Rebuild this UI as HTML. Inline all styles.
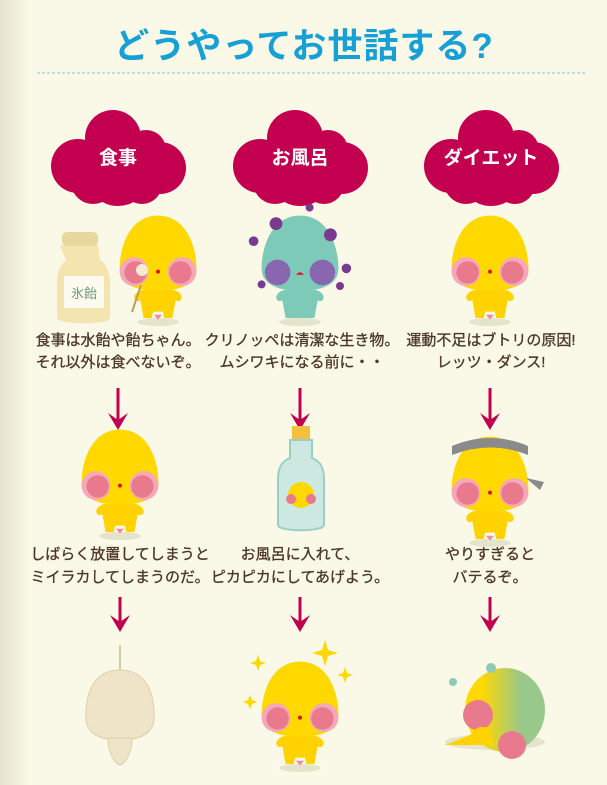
<!DOCTYPE html>
<html><head><meta charset="utf-8"><style>
body{margin:0;width:607px;height:785px;overflow:hidden;background:#faf8e6;font-family:"Liberation Sans","Noto Sans CJK JP",sans-serif}
svg{position:absolute;left:0;top:0}
</style></head><body>
<svg width="607" height="785" viewBox="0 0 607 785">
<defs>
<linearGradient id="lg" x1="0" x2="1"><stop offset="0" stop-color="#e6e2d0"/><stop offset="1" stop-color="#faf8e6"/></linearGradient>
<linearGradient id="gg" x1="0" y1="0" x2="1" y2="0"><stop offset="0.2" stop-color="#ffd800"/><stop offset="0.7" stop-color="#98c88a"/></linearGradient>
<g id="cloud" fill="#c2004f">
<circle cx="-5" cy="-20" r="28"/><circle cx="28" cy="-8" r="20"/><circle cx="-40" cy="8" r="27"/><circle cx="42" cy="10" r="26"/><circle cx="0" cy="16" r="32"/><circle cx="-25" cy="24" r="22"/><circle cx="24" cy="26" r="20"/><rect x="-45" y="-15" width="90" height="40"/>
</g>
<g id="ch">
<ellipse cx="0" cy="85" rx="26" ry="5" fill="#e4e4cc"/>
<path d="M-20,45 C-35,50 -30,62 -22,58 L-18,80 L-8,80 L-6,72 L6,72 L8,80 L18,80 L22,58 C30,62 35,50 20,45Z" fill="#ffd200"/>
<path d="M-5,76 L0,82 L5,76Z" fill="#f08aa0"/>
<path d="M0,-48 C36,-48 48,-8 48,18 C48,40 24,46 0,46 C-24,46 -48,40 -48,18 C-48,-8 -36,-48 0,-48Z" fill="#ffd800"/>
<circle cx="-30" cy="22" r="18" fill="#f5a8b8"/><circle cx="30" cy="22" r="18" fill="#f5a8b8"/>
<circle cx="-28" cy="23" r="14" fill="#e97a8e"/><circle cx="28" cy="23" r="14" fill="#e97a8e"/>
<circle cx="0" cy="22" r="2.5" fill="#e0102a"/>
</g>
</defs>
<rect x="0" y="0" width="30" height="785" fill="url(#lg)"/>
<text x="304" y="58" text-anchor="middle" font-size="35" font-weight="bold" fill="#17a0d6" letter-spacing="1">どうやってお世話する?</text>
<line x1="37" y1="73" x2="585" y2="73" stroke="#80c6d8" stroke-width="1" stroke-dasharray="3,2"/>

<use href="#cloud" x="118" y="158"/>
<use href="#cloud" x="300" y="158"/>
<use href="#cloud" x="491" y="158"/>
<g fill="#fff" font-size="19" font-weight="bold" text-anchor="middle">
<text x="118" y="164">食事</text><text x="300" y="164">お風呂</text><text x="491" y="164">ダイエット</text>
</g>

<!-- row 1 -->
<g>
<path d="M60,245 L98,245 L100,260 C108,265 110,275 110,285 L110,318 C110,325 60,325 57,318 L57,285 C57,272 60,265 66,260Z" fill="#f3e4b0"/>
<rect x="62" y="232" width="36" height="14" rx="5" fill="#e8d8a0"/>
<rect x="64" y="276" width="40" height="32" fill="#fdfbf0"/>
<text x="84" y="298" text-anchor="middle" font-size="13" fill="#6a9a7a">氷飴</text>
</g>
<use href="#ch" transform="translate(158,254) scale(0.8)"/>
<line x1="132" y1="312" x2="141" y2="285" stroke="#b8a060" stroke-width="2"/>
<circle cx="142" cy="270" r="6" fill="#f6ead0"/>
<g transform="translate(300,254) scale(0.8)">
<ellipse cx="0" cy="85" rx="26" ry="5" fill="#e4e4cc"/>
<path d="M-20,45 C-35,50 -30,62 -22,58 L-18,80 L18,80 L22,58 C30,62 35,50 20,45Z" fill="#7ecab8"/>
<path d="M0,-48 C36,-48 48,-8 48,18 C48,40 24,46 0,46 C-24,46 -48,40 -48,18 C-48,-8 -36,-48 0,-48Z" fill="#7ecab8"/>
<circle cx="-28" cy="23" r="16" fill="#8866b0"/><circle cx="28" cy="23" r="16" fill="#8866b0"/>
<path d="M-5,26 Q0,20 5,26Z" fill="#e0102a"/>
<g fill="#7a3a90"><circle cx="-30" cy="-38" r="8"/><circle cx="38" cy="-24" r="8"/><circle cx="12" cy="-58" r="5"/><circle cx="-58" cy="-16" r="6"/><circle cx="58" cy="18" r="6"/><circle cx="-48" cy="38" r="5"/><circle cx="50" cy="40" r="5"/></g>
</g>
<use href="#ch" transform="translate(490,254) scale(0.8)"/>

<g fill="#4a3628" stroke="#4a3628" stroke-width="0.3" font-size="15" text-anchor="middle">
<text x="118" y="345">食事は水飴や飴ちゃん。</text>
<text x="118" y="367">それ以外は食べないぞ。</text>
<text x="302" y="345">クリノッペは清潔な生き物。</text>
<text x="302" y="367">ムシワキになる前に・・</text>
<text x="491" y="345">運動不足はブトリの原因!</text>
<text x="491" y="367">レッツ・ダンス!</text>
<text x="120" y="559">しばらく放置してしまうと</text>
<text x="120" y="582">ミイラカしてしまうのだ。</text>
<text x="300" y="559">お風呂に入れて、</text>
<text x="300" y="582">ピカピカにしてあげよう。</text>
<text x="490" y="559">やりすぎると</text>
<text x="490" y="582">バテるぞ。</text>
</g>

<!-- arrows -->
<g stroke="#c2004f" stroke-width="3" fill="#c2004f">
<line x1="118" y1="388" x2="118" y2="420"/><path d="M108,413 L118,430 L128,413 L118,420Z" stroke="none"/>
<line x1="300" y1="388" x2="300" y2="420"/><path d="M290,413 L300,430 L310,413 L300,420Z" stroke="none"/>
<line x1="490" y1="388" x2="490" y2="420"/><path d="M480,413 L490,430 L500,413 L490,420Z" stroke="none"/>
<line x1="120" y1="597" x2="120" y2="622"/><path d="M110,615 L120,632 L130,615 L120,622Z" stroke="none"/>
<line x1="300" y1="597" x2="300" y2="622"/><path d="M290,615 L300,632 L310,615 L300,622Z" stroke="none"/>
<line x1="490" y1="597" x2="490" y2="622"/><path d="M480,615 L490,632 L500,615 L490,622Z" stroke="none"/>
</g>

<!-- row 2 -->
<use href="#ch" transform="translate(120,468) scale(0.8)"/>
<g>
<rect x="292" y="426" width="18" height="14" fill="#f5c040"/>
<path d="M290,440 L312,440 L312,458 C322,462 324,470 324,480 L324,525 C324,532 278,532 278,525 L278,480 C278,470 280,462 290,458Z" fill="#cde8e0" stroke="#9ccfc4" stroke-width="2"/>
<ellipse cx="301" cy="495" rx="13" ry="13" fill="#ffd800"/>
<circle cx="291" cy="499" r="5" fill="#e97a8e"/><circle cx="311" cy="499" r="5" fill="#e97a8e"/>
</g>
<use href="#ch" transform="translate(490,475) scale(0.8)"/>
<path d="M452,446 Q490,430 528,446 L528,455 Q490,440 452,455Z" fill="#8a8a8a"/>
<path d="M526,478 L544,482 L540,490 Z" fill="#8a8a8a"/>

<!-- row 3 -->
<g>
<line x1="120" y1="645" x2="120" y2="672" stroke="#d8c8a0" stroke-width="2"/>
<path d="M120,670 C150,670 155,700 154,720 C152,735 138,740 120,740 C102,740 88,735 86,720 C85,700 90,670 120,670Z" fill="#efe4c8" stroke="#ddd0a8"/>
<path d="M108,738 L132,738 C132,755 124,764 120,765 C116,764 108,755 108,738Z" fill="#efe4c8" stroke="#ddd0a8"/>
</g>
<use href="#ch" transform="translate(300,700) scale(0.8)"/>
<g fill="#ffd800"><path d="M325,640 l3,10 l10,3 l-10,3 l-3,10 l-3,-10 l-10,-3 l10,-3z"/><path d="M258,655 l2,6 l6,2 l-6,2 l-2,6 l-2,-6 l-6,-2 l6,-2z"/><path d="M345,667 l2,6 l6,2 l-6,2 l-2,6 l-2,-6 l-6,-2 l6,-2z"/><path d="M250,695 l2,5 l5,2 l-5,2 l-2,5 l-2,-5 l-5,-2 l5,-2z"/></g>
<g>
<ellipse cx="495" cy="742" rx="50" ry="8" fill="#e4e4cc"/>
<ellipse cx="505" cy="710" rx="40" ry="42" fill="url(#gg)"/>
<circle cx="478" cy="715" r="15" fill="#e97a8e"/><circle cx="512" cy="745" r="14" fill="#e97a8e"/>
<path d="M445,745 L470,735 C475,728 480,725 488,728 L495,745Z" fill="#ffd200"/>
<circle cx="491" cy="668" r="5" fill="#8ecab8"/><circle cx="453" cy="682" r="4" fill="#8ecab8"/>
</g>
</svg>
</body></html>
